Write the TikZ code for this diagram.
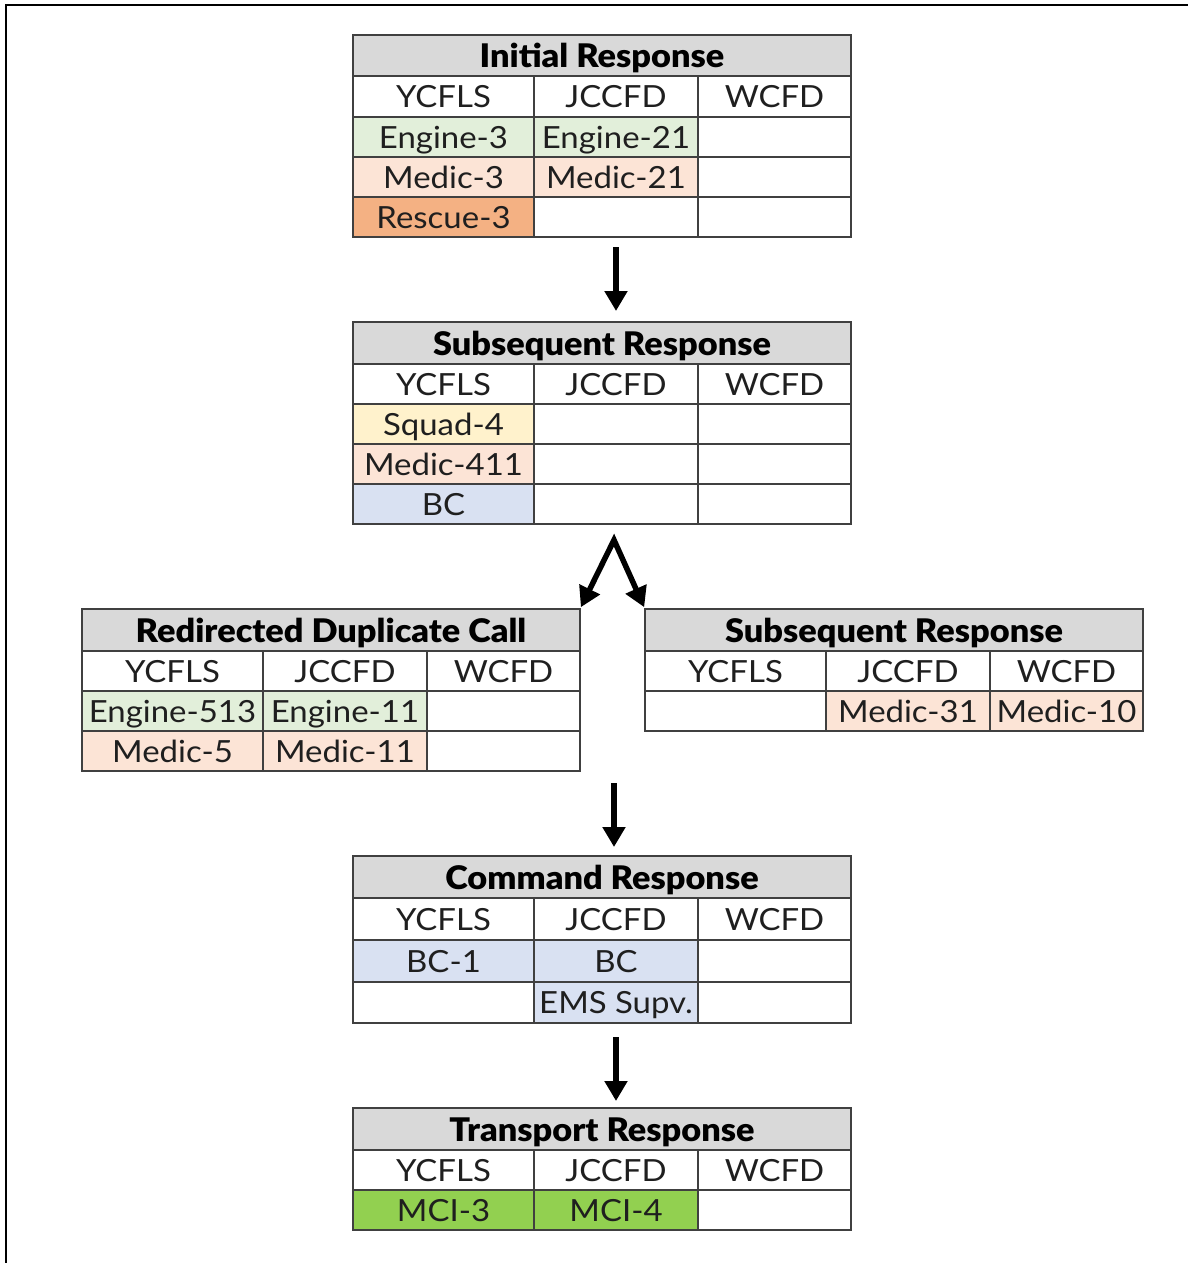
\documentclass[tikz,border=0pt]{standalone}
\usepackage{fontspec}
\setmainfont{Lato}[FakeStretch=1.08]
\newfontfamily\titlefont{Lato Black}[FakeStretch=1.055]
\usetikzlibrary{arrows.meta}
\definecolor{hdr}{HTML}{D9D9D9}
\definecolor{eng}{HTML}{E2EFDA}
\definecolor{med}{HTML}{FCE4D6}
\definecolor{res}{HTML}{F4B183}
\definecolor{sqd}{HTML}{FFF2CC}
\definecolor{bcb}{HTML}{D9E1F2}
\definecolor{mci}{HTML}{92D050}
\definecolor{gridc}{HTML}{404040}
\tikzset{
  cell/.style={draw=gridc, line width=1.6pt, inner sep=0pt, outer sep=0pt, anchor=north west,
    font=\fontsize{30.5}{32}\selectfont, text height=22pt, text depth=0pt, text=black!88},
  titlecell/.style={cell, fill=hdr, minimum width=498pt, font=\titlefont\fontsize{32.5}{34}\selectfont, text height=24.5pt, text depth=0pt, text=black},
  flow/.style={line width=5.5pt, -{Triangle[width=22pt,length=20pt]}},
  flowtwo/.style={line width=5.5pt, {Triangle[width=22pt,length=20pt]}-{Triangle[width=22pt,length=20pt]}},
  frame/.style={line width=2.5pt},
}
\newcommand\trow[9]{%
  \node[cell,fill=#4,minimum width=181pt,minimum height=#3pt] (#1a) at (#2) {#5};
  \node[cell,fill=#6,minimum width=164pt,minimum height=#3pt] (#1b) at (#1a.north east) {#7};
  \node[cell,fill=#8,minimum width=153pt,minimum height=#3pt] (#1c) at (#1b.north east) {#9};}
\begin{document}
\begin{tikzpicture}[x=1pt,y=-1pt]
\useasboundingbox (0,0) rectangle (1188,1263);
\draw[frame] (6,1263) -- (6,5) -- (1188,5);

% Table 1
\node[titlecell, minimum height=41pt] (T1) at (353,35) {Initial Response};
\trow{T1h}{T1.south west}{41}{white}{YCFLS}{white}{JCCFD}{white}{WCFD}
\trow{T1a}{T1ha.south west}{40}{eng}{Engine-3}{eng}{Engine-21}{white}{}
\trow{T1b}{T1aa.south west}{40}{med}{Medic-3}{med}{Medic-21}{white}{}
\trow{T1c}{T1ba.south west}{40}{res}{Rescue-3}{white}{}{white}{}

% Table 2
\node[titlecell, minimum height=42pt] (T2) at (353,322) {Subsequent Response};
\trow{T2h}{T2.south west}{40}{white}{YCFLS}{white}{JCCFD}{white}{WCFD}
\trow{T2a}{T2ha.south west}{40}{sqd}{Squad-4}{white}{}{white}{}
\trow{T2b}{T2aa.south west}{40}{med}{Medic-411}{white}{}{white}{}
\trow{T2c}{T2ba.south west}{40}{bcb}{BC}{white}{}{white}{}

% Table 3
\node[titlecell, minimum height=42pt] (T3) at (82,609) {Redirected Duplicate Call};
\trow{T3h}{T3.south west}{40}{white}{YCFLS}{white}{JCCFD}{white}{WCFD}
\trow{T3a}{T3ha.south west}{40}{eng}{Engine-513}{eng}{Engine-11}{white}{}
\trow{T3b}{T3aa.south west}{40}{med}{Medic-5}{med}{Medic-11}{white}{}

% Table 4
\node[titlecell, minimum height=42pt] (T4) at (645,609) {Subsequent Response};
\trow{T4h}{T4.south west}{40}{white}{YCFLS}{white}{JCCFD}{white}{WCFD}
\trow{T4a}{T4ha.south west}{40}{white}{}{med}{Medic-31}{med}{Medic-10}

% Table 5
\node[titlecell, minimum height=42pt] (T5) at (353,856) {Command Response};
\trow{T5h}{T5.south west}{42}{white}{YCFLS}{white}{JCCFD}{white}{WCFD}
\trow{T5a}{T5ha.south west}{42}{bcb}{BC-1}{bcb}{BC}{white}{}
\trow{T5b}{T5aa.south west}{41}{white}{}{bcb}{EMS Supv.}{white}{}

% Table 6
\node[titlecell, minimum height=42pt] (T6) at (353,1108) {Transport Response};
\trow{T6h}{T6.south west}{40}{white}{YCFLS}{white}{JCCFD}{white}{WCFD}
\trow{T6a}{T6ha.south west}{40}{mci}{MCI-3}{mci}{MCI-4}{white}{}

% Arrows
\draw[flow, shorten <=10pt, shorten >=11pt] (T1cb.south) -- (T1cb.south |- T2.north);
\coordinate (split) at (614,540);
\draw[flowtwo, shorten <=2pt, shorten >=2pt] (T3.north east) -- (split) -- (T4.north west);
\coordinate (a3) at (614,771);
\draw[flow, shorten <=12pt, shorten >=9pt] (a3) -- (a3 |- T5.north);
\draw[flow, shorten <=14pt, shorten >=7pt] (T5bb.south) -- (T5bb.south |- T6.north);
\end{tikzpicture}
\end{document}
